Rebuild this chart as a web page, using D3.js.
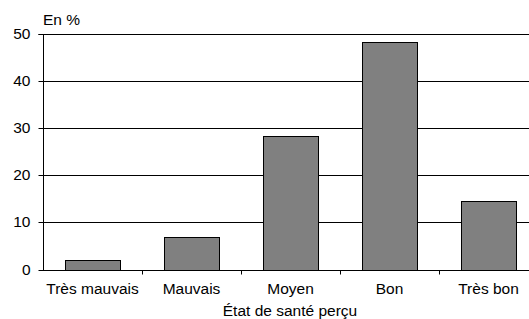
<!DOCTYPE html>
<html><head><meta charset="utf-8">
<script src="https://cdn.jsdelivr.net/npm/d3@7"></script>
<style>body{margin:0;background:#fff;}svg{display:block;font-family:"Liberation Sans",Arial,sans-serif;}</style>
</head><body>
<svg id="c" width="529" height="319"></svg>
<script>
const categories = ["Très mauvais", "Mauvais", "Moyen", "Bon", "Très bon"];
const values = [2.0, 6.8, 28.4, 48.4, 14.6];
const yTicks = [0, 10, 20, 30, 40, 50];
const yLabel = "En %";
const xTitle = "État de santé perçu";

const svg = d3.select("#c");
const m = {left: 43, top: 34, bottom: 269.5};
const x = d3.scaleBand().domain(categories).range([m.left, m.left + 5 * 99]).paddingInner(0.44).paddingOuter(0.22);
const xb = d3.scaleBand().domain(categories).range([m.left, m.left + 5 * 99]);
const y = d3.scaleLinear().domain([0, 50]).range([m.bottom, m.top]);
const fs = 15.5;

// gridlines
svg.append("g").selectAll("line").data(yTicks.filter(d => d > 0)).join("line")
  .attr("x1", m.left).attr("x2", 529)
  .attr("y1", d => Math.round(y(d)) + 0.5).attr("y2", d => Math.round(y(d)) + 0.5)
  .attr("stroke", "#000").attr("stroke-width", 1);

// bars
svg.append("g").selectAll("rect").data(values).join("rect")
  .attr("x", (d, i) => Math.round(x(categories[i])) + 0.5)
  .attr("width", Math.round(x.bandwidth()))
  .attr("y", d => Math.round(y(d)) + 0.5)
  .attr("height", d => Math.round(y(0)) - Math.round(y(d)))
  .attr("fill", "#808080").attr("stroke", "#000").attr("stroke-width", 1);

// y axis
const ya = svg.append("g").attr("transform", `translate(${m.left + 0.5},0)`)
  .call(d3.axisLeft(y).tickValues(yTicks).tickSize(5).tickPadding(8).tickFormat(d3.format("d")));
ya.select(".domain").attr("stroke", "#000").attr("d", `M-5,${Math.round(y(50))+0.5}H0V${Math.round(y(0))+0.5}`);
ya.selectAll(".tick line").attr("stroke", "#000");
ya.selectAll(".tick text").attr("font-size", fs).attr("font-family", "Liberation Sans, Arial, sans-serif").attr("fill", "#000");
ya.selectAll(".tick").attr("transform", d => `translate(0,${Math.round(y(d)) + 0.5})`);

// x axis
const xa = svg.append("g").attr("transform", `translate(0,${Math.round(y(0)) + 0.5})`);
xa.append("line").attr("x1", m.left).attr("x2", 529).attr("stroke", "#000");
xa.selectAll(".tk").data(categories.slice(1)).join("line").attr("class", "tk")
  .attr("x1", d => Math.round(xb(d)) + 0.5).attr("x2", d => Math.round(xb(d)) + 0.5)
  .attr("y1", 0).attr("y2", 4).attr("stroke", "#000");
xa.selectAll("text").data(categories).join("text")
  .attr("x", d => xb(d) + xb.bandwidth() / 2).attr("y", 23.5)
  .attr("text-anchor", "middle").attr("font-size", fs).text(d => d);

svg.append("text").attr("x", m.left).attr("y", 25).attr("font-size", fs).text(yLabel);
svg.append("text").attr("x", 290).attr("y", 316).attr("text-anchor", "middle").attr("font-size", fs).text(xTitle);
</script>
</body></html>
